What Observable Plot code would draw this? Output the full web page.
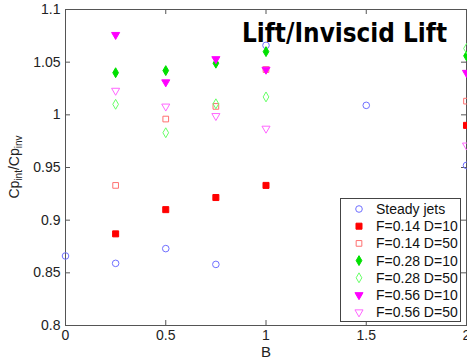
<!DOCTYPE html>
<html><head><meta charset="utf-8">
<script src="https://cdn.jsdelivr.net/npm/d3@7"></script>
<script src="https://cdn.jsdelivr.net/npm/@observablehq/plot@0.6"></script>
<style>
html,body{margin:0;padding:0;overflow:hidden;background:#fff;}
#wrap{position:relative;width:467px;height:360px;overflow:hidden;}
#wrap svg{position:absolute;left:0;top:0;}
</style></head><body><div id="wrap"></div>
<script>
// ---- data ----
const bSteady = [0, 0.25, 0.5, 0.75, 1, 1.5, 2];
const steadyJets = [0.866, 0.859, 0.873, 0.858, 1.066, 1.009, 0.952];
const bForced = [0.25, 0.5, 0.75, 1, 2];
const f014d10 = [0.887, 0.910, 0.9215, 0.933, 0.990];
const f014d50 = [0.933, 0.996, 1.008, 1.043, 1.013];
const f028d10 = [1.040, 1.042, 1.049, 1.060, 1.056];
const f028d50 = [1.010, 0.983, 1.0105, 1.017, 1.063];
const f056d10 = [1.076, 1.031, 1.053, 1.043, 1.040];
const f056d50 = [1.023, 1.008, 0.999, 0.987, 0.971];
const seriesNames = ["Steady jets", "F=0.14 D=10", "F=0.14 D=50", "F=0.28 D=10", "F=0.28 D=50", "F=0.56 D=10", "F=0.56 D=50"];
const xTicks = [0, 0.5, 1, 1.5, 2];
const yTicks = [0.8, 0.85, 0.9, 0.95, 1, 1.05, 1.1];
const titleText = "Lift/Inviscid Lift";
const xLabel = "B";

// ---- styles ----
const styles = [
  {b: bSteady, v: steadyJets, symbol: "circle", r: 3.3, fill: "none", stroke: "#6f6fff", rotate: 0},
  {b: bForced, v: f014d10, symbol: "square", r: 3.4, fill: "#ff0000", stroke: "#ff0000", rotate: 0},
  {b: bForced, v: f014d50, symbol: "square", r: 3.2, fill: "none", stroke: "#ff7070", rotate: 0},
  {b: bForced, v: f028d10, symbol: "diamond", r: 3.0, fill: "#00e000", stroke: "#00e000", rotate: 0},
  {b: bForced, v: f028d50, symbol: "diamond", r: 3.0, fill: "none", stroke: "#66ff66", rotate: 0},
  {b: bForced, v: f056d10, symbol: "triangle", r: 3.0, fill: "#ff00ff", stroke: "#ff00ff", rotate: 180},
  {b: bForced, v: f056d50, symbol: "triangle", r: 3.0, fill: "none", stroke: "#ff66ff", rotate: 180}
];

const W = 467, H = 360, mL = 65, mR = 1, mT = 9, mB = 35;
const fw = W - mL - mR, fh = H - mT - mB;
const axisColor = "#555";

const marks = [
  Plot.frame({stroke: axisColor, strokeWidth: 1}),
  Plot.tickX(xTicks, {x: d => d, insetTop: fh - 5, stroke: axisColor}),
  Plot.tickX(xTicks, {x: d => d, insetBottom: fh - 5, stroke: axisColor}),
  Plot.tickY(yTicks, {y: d => d, insetRight: fw - 5, stroke: axisColor}),
  Plot.tickY(yTicks, {y: d => d, insetLeft: fw - 5, stroke: axisColor}),
  Plot.axisX({ticks: xTicks, tickSize: 0, tickPadding: 5, tickFormat: d => String(d), label: null, fill: "#222"}),
  Plot.axisY({ticks: yTicks, tickSize: 0, tickPadding: 5, tickFormat: d => String(d), label: null, fill: "#222"}),
  Plot.text([xLabel], {text: d => d, frameAnchor: "bottom", lineAnchor: "middle", dy: 27, fontSize: 15, fill: "#222"})
];
for (const s of styles) {
  marks.push(Plot.dot(d3.range(s.b.length), {
    x: i => s.b[i], y: i => s.v[i], symbol: s.symbol, r: s.r,
    fill: s.fill, stroke: s.stroke, strokeWidth: 1, rotate: s.rotate
  }));
}

const chart = Plot.plot({
  width: W, height: H,
  marginLeft: mL, marginRight: mR, marginTop: mT, marginBottom: mB,
  x: {domain: [0, 2]},
  y: {domain: [0.8, 1.1]},
  style: {fontFamily: "'Liberation Sans', Arial, sans-serif", fontSize: "14px", background: "white", overflow: "visible"},
  marks
});
const wrap = document.getElementById("wrap");
wrap.appendChild(chart);

// ---- overlay: title, y label, legend ----
const ov = d3.select(wrap).append("svg").attr("width", W).attr("height", H)
  .style("font-family", "'Liberation Sans', Arial, sans-serif");

ov.append("text").attr("x", 242).attr("y", 42)
  .attr("font-family", "'DejaVu Sans', sans-serif").attr("font-weight", "bold")
  .attr("font-size", 26).attr("textLength", 205).attr("lengthAdjust", "spacingAndGlyphs")
  .attr("fill", "#000").text(titleText);

const yl = ov.append("text").attr("transform", "translate(19,167) rotate(-90)")
  .attr("text-anchor", "middle").attr("font-size", 14).attr("fill", "#222");
yl.append("tspan").text("Cp");
yl.append("tspan").attr("font-size", 10).attr("dy", 3).text("int");
yl.append("tspan").attr("dy", -3).text("/Cp");
yl.append("tspan").attr("font-size", 10).attr("dy", 3).text("inv");

const lg = ov.append("g");
lg.append("rect").attr("x", 340.5).attr("y", 198.5).attr("width", 120).attr("height", 123)
  .attr("fill", "white").attr("stroke", "#444").attr("stroke-width", 1);
const symMap = {circle: d3.symbolCircle, square: d3.symbolSquare, diamond: d3.symbolDiamond, triangle: d3.symbolTriangle};
seriesNames.forEach((name, i) => {
  const s = styles[i];
  const y = 209 + i * 17.2;
  lg.append("path")
    .attr("d", d3.symbol(symMap[s.symbol], s.r * s.r * Math.PI)())
    .attr("transform", `translate(359,${y}) rotate(${s.rotate})`)
    .attr("fill", s.fill).attr("stroke", s.stroke).attr("stroke-width", 1);
  lg.append("text").attr("x", 376).attr("y", y + 5).attr("font-size", 14).attr("fill", "#111").text(name);
});
</script></body></html>
